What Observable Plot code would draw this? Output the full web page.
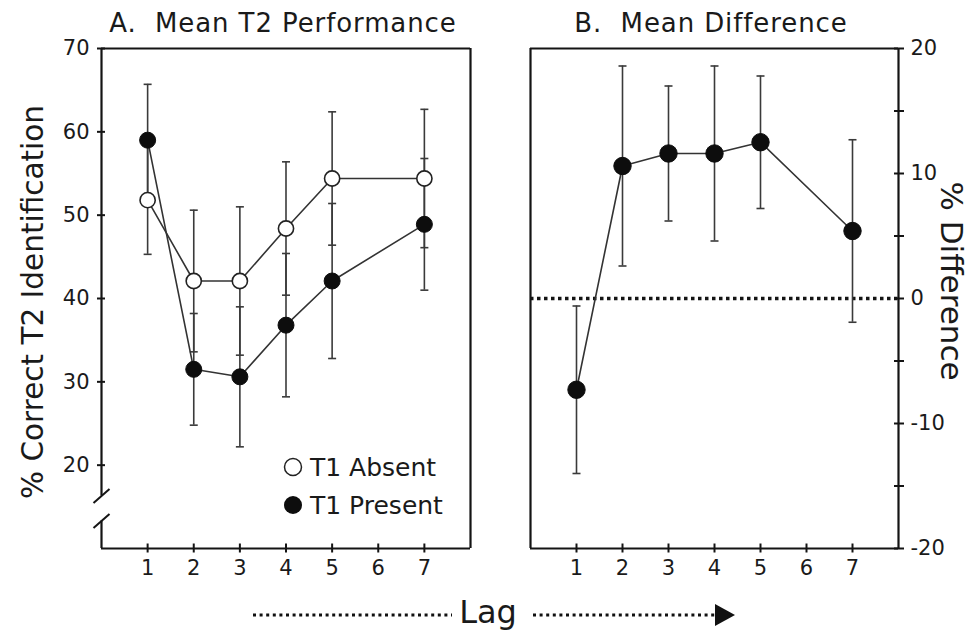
<!DOCTYPE html>
<html>
<head>
<meta charset="utf-8">
<script src="https://cdn.jsdelivr.net/npm/d3@7"></script>
<script src="https://cdn.jsdelivr.net/npm/@observablehq/plot@0.6"></script>
<style>
  html, body { margin: 0; padding: 0; background: #fff; }
  #fig { position: relative; width: 972px; height: 635px; font-family: "DejaVu Sans", Verdana, sans-serif; color: #1a1a1a; }
  #fig > svg { position: absolute; top: 0; }
</style>
</head>
<body>
<div id="fig"></div>
<script>
// ---- data ----
const lags = [1, 2, 3, 4, 5, 7];
const absentMean  = [51.8, 42.1, 42.1, 48.4, 54.4, 54.4];
const absentErr   = [6.5, 8.5, 8.9, 8.0, 8.0, 8.3];
const presentMean = [59.0, 31.5, 30.6, 36.8, 42.1, 48.9];
const presentErr  = [6.7, 6.7, 8.4, 8.6, 9.3, 7.9];
const diffMean    = [-7.3, 10.6, 11.6, 11.6, 12.5, 5.4];
const diffErr     = [6.7, 8.0, 5.4, 7.0, 5.3, 7.3];

const xTicks = [1, 2, 3, 4, 5, 6, 7];
const leftYTicks = [20, 30, 40, 50, 60, 70];
const rightYTicks = [-20, -15, -10, -5, 0, 5, 10, 15, 20];
const rightYLabels = [-20, -10, 0, 10, 20];
const legendLabels = ["T1 Absent", "T1 Present"];
const titleA = "A.\u00A0 Mean T2 Performance";
const titleB = "B.\u00A0 Mean Difference";
const yTitleA = "% Correct T2 Identification";
const yTitleB = "% Difference";
const xTitle = "Lag";

// axis break on the left y axis (value where upper segment stops / lower resumes)
const breakUpper = 16.3;
const breakLower = 13.3;

// ---- build rows ----
const absent  = lags.map((lag, i) => ({lag, mean: absentMean[i],  err: absentErr[i]}));
const present = lags.map((lag, i) => ({lag, mean: presentMean[i], err: presentErr[i]}));
const diff    = lags.map((lag, i) => ({lag, mean: diffMean[i],    err: diffErr[i]}));

const ink = "#141414";
const barInk = "#3a3a3a";
const capSymbol = {draw(ctx) { ctx.moveTo(-4, 0); ctx.lineTo(4, 0); }};
const slashSymbol = {draw(ctx) { ctx.moveTo(-8, 7); ctx.lineTo(8, -7); }};
const plotStyle = {background: "transparent", color: "#1a1a1a", fontFamily: "'DejaVu Sans', Verdana, sans-serif", fontSize: "21px", overflow: "visible"};

function errorMarks(rows) {
  return [
    Plot.ruleX(rows, {x: "lag", y1: d => d.mean - d.err, y2: d => d.mean + d.err, stroke: barInk, strokeWidth: 1.6}),
    Plot.dot(rows, {x: "lag", y: d => d.mean + d.err, symbol: capSymbol, r: 4, fill: "none", stroke: barInk, strokeWidth: 1.6}),
    Plot.dot(rows, {x: "lag", y: d => d.mean - d.err, symbol: capSymbol, r: 4, fill: "none", stroke: barInk, strokeWidth: 1.6})
  ];
}

const left = Plot.plot({
  width: 490, height: 580,
  marginLeft: 101, marginRight: 20, marginTop: 48, marginBottom: 32,
  x: {domain: [0, 8]},
  y: {domain: [10, 70]},
  style: plotStyle,
  marks: [
    // frame
    Plot.ruleY([70], {stroke: ink, strokeWidth: 2.2}),
    Plot.ruleY([10], {stroke: ink, strokeWidth: 2.2}),
    Plot.ruleX([8], {stroke: ink, strokeWidth: 2.2}),
    Plot.ruleX([0], {y1: 70, y2: breakUpper, stroke: ink, strokeWidth: 2.2}),
    Plot.ruleX([0], {y1: breakLower, y2: 10, stroke: ink, strokeWidth: 2.2}),
    Plot.dot([breakUpper, breakLower], {x: () => 0, y: d => d, symbol: slashSymbol, r: 5, fill: "none", stroke: ink, strokeWidth: 2}),
    // axes
    Plot.axisY(leftYTicks, {anchor: "left", tickSize: 8, dx: 4, fill: "none", stroke: ink, strokeWidth: 2, label: null}),
    Plot.axisY(leftYTicks, {anchor: "left", tickSize: 0, tickPadding: 12, label: null}),
    Plot.axisX(xTicks, {anchor: "bottom", tickSize: 9, dy: -4.5, fill: "none", stroke: ink, strokeWidth: 2, label: null}),
    Plot.axisX(xTicks, {anchor: "bottom", tickSize: 0, tickPadding: 12, label: null}),
    // data
    ...errorMarks(present),
    ...errorMarks(absent),
    Plot.line(present, {x: "lag", y: "mean", stroke: "#333", strokeWidth: 1.6}),
    Plot.line(absent, {x: "lag", y: "mean", stroke: "#333", strokeWidth: 1.6}),
    Plot.dot(present, {x: "lag", y: "mean", r: 8, fill: "#0d0d0d", stroke: "#0d0d0d", strokeWidth: 1}),
    Plot.dot(absent, {x: "lag", y: "mean", r: 7.6, fill: "white", stroke: "#222", strokeWidth: 1.6})
  ]
});
left.style.left = "0px";

const right = Plot.plot({
  width: 482, height: 580,
  marginLeft: 40, marginRight: 74, marginTop: 48, marginBottom: 32,
  x: {domain: [0, 8]},
  y: {domain: [-20, 20]},
  style: plotStyle,
  marks: [
    Plot.ruleY([20], {stroke: ink, strokeWidth: 2.2}),
    Plot.ruleY([-20], {stroke: ink, strokeWidth: 2.2}),
    Plot.ruleX([0], {stroke: ink, strokeWidth: 2.2}),
    Plot.ruleX([8], {stroke: ink, strokeWidth: 2.2}),
    Plot.ruleY([0], {stroke: ink, strokeWidth: 3.5, strokeDasharray: "3.5,3.5"}),
    Plot.axisY(rightYTicks, {anchor: "right", tickSize: 10, dx: -5, fill: "none", stroke: ink, strokeWidth: 2, label: null}),
    Plot.axisY(rightYLabels, {anchor: "right", tickSize: 0, tickPadding: 12, tickFormat: d => String(d), label: null}),
    Plot.axisX(xTicks, {anchor: "bottom", tickSize: 9, dy: -4.5, fill: "none", stroke: ink, strokeWidth: 2, label: null}),
    Plot.axisX(xTicks, {anchor: "bottom", tickSize: 0, tickPadding: 12, label: null}),
    ...errorMarks(diff),
    Plot.line(diff, {x: "lag", y: "mean", stroke: "#333", strokeWidth: 1.6}),
    Plot.dot(diff, {x: "lag", y: "mean", r: 8.7, fill: "#0d0d0d", stroke: "#0d0d0d", strokeWidth: 1})
  ]
});
right.style.left = "490px";

const fig = document.getElementById("fig");
fig.appendChild(left);
fig.appendChild(right);

// ---- overlay: titles, axis titles, legend, lag arrow ----
const ov = d3.select(fig).append("svg")
  .attr("width", 972).attr("height", 635)
  .style("position", "absolute").style("left", "0px").style("top", "0px")
  .style("font-family", "'DejaVu Sans', Verdana, sans-serif")
  .attr("fill", "#1a1a1a");

ov.append("text").attr("x", 283).attr("y", 32).attr("text-anchor", "middle")
  .attr("font-size", 26).attr("letter-spacing", 0.9).text(titleA);
ov.append("text").attr("x", 711).attr("y", 32).attr("text-anchor", "middle")
  .attr("font-size", 26).attr("letter-spacing", 0.9).text(titleB);

ov.append("text").attr("transform", "translate(43,302) rotate(-90)").attr("text-anchor", "middle")
  .attr("font-size", 29.5).text(yTitleA);
ov.append("text").attr("transform", "translate(941,281) rotate(90)").attr("text-anchor", "middle")
  .attr("font-size", 31).text(yTitleB);

// legend
const leg = ov.append("g");
leg.append("circle").attr("cx", 293).attr("cy", 467).attr("r", 8.5).attr("fill", "white").attr("stroke", "#222").attr("stroke-width", 1.5);
leg.append("text").attr("x", 310).attr("y", 476).attr("font-size", 25).text(legendLabels[0]);
leg.append("circle").attr("cx", 293).attr("cy", 505).attr("r", 9).attr("fill", "#0d0d0d");
leg.append("text").attr("x", 310).attr("y", 514).attr("font-size", 25).text(legendLabels[1]);

// lag label with dotted arrows
ov.append("text").attr("x", 488).attr("y", 623).attr("text-anchor", "middle").attr("font-size", 32).text(xTitle);
ov.append("line").attr("x1", 253).attr("x2", 452).attr("y1", 615).attr("y2", 615)
  .attr("stroke", "#111").attr("stroke-width", 3).attr("stroke-dasharray", "3,3.6");
ov.append("line").attr("x1", 533).attr("x2", 717).attr("y1", 615).attr("y2", 615)
  .attr("stroke", "#111").attr("stroke-width", 3).attr("stroke-dasharray", "3,3.6");
ov.append("path").attr("d", "M715,604 L735,615 L715,626 Z").attr("fill", "#111");
</script>
</body>
</html>
